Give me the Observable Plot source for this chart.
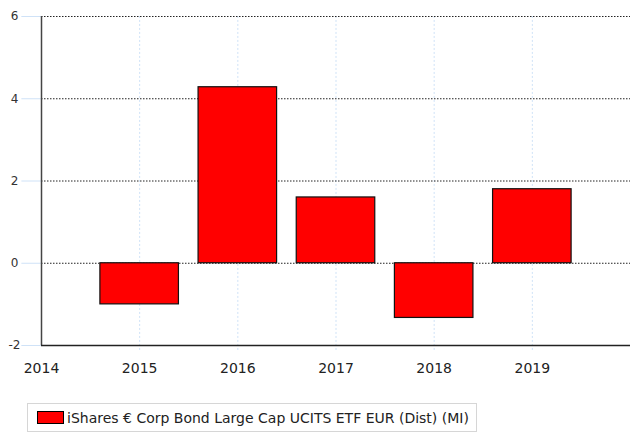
<!DOCTYPE html>
<html><head><meta charset="utf-8">
<script src="https://cdn.jsdelivr.net/npm/d3@7"></script>
<script src="https://cdn.jsdelivr.net/npm/@observablehq/plot@0.6"></script>
<style>
body{margin:0;background:#fff;font-family:Tahoma,"DejaVu Sans",sans-serif;}
#legend{position:absolute;left:27px;top:403px;width:450px;height:29px;border:1px solid #d6d6d6;box-sizing:border-box;display:flex;align-items:center;font-family:"DejaVu Sans",sans-serif;font-size:14px;color:#222;}
#legend .sw{display:inline-block;width:27px;height:13px;background:#ff0000;border:1px solid #000;margin-left:9px;margin-right:3px;box-sizing:border-box;}
</style></head><body>
<div id="chart"></div>
<div id="legend"><span class="sw"></span><span id="lt"></span></div>
<script>
const years = [2015, 2016, 2017, 2018, 2019];
const values = [-1.0, 4.28, 1.6, -1.33, 1.8];
const yTicks = [-2, 0, 2, 4, 6];
const xTicks = [2014, 2015, 2016, 2017, 2018, 2019];
const seriesName = "iShares € Corp Bond Large Cap UCITS ETF EUR (Dist) (MI)";
document.getElementById("lt").textContent = seriesName;
const data = years.map((y, i) => ({year: y, value: values[i]}));

const plot = Plot.plot({
  width: 635, height: 395,
  marginLeft: 41, marginRight: 5, marginTop: 16, marginBottom: 50,
  style: {fontFamily: "DejaVu Sans, sans-serif", background: "#fff"},
  x: {type: "linear", domain: [2014, 2020], axis: null},
  y: {type: "linear", domain: [-2, 6], axis: null},
  marks: [
    Plot.ruleX(years, {x: d => d, y1: -2.12, y2: 6, stroke: "#cfe2f7", strokeDasharray: "2,2", strokeWidth: 1}),
    Plot.ruleY(yTicks.filter(d => d > -2), {y: d => d, x1: 2014, x2: 2020, stroke: "#222", strokeDasharray: "1.5,1.5", strokeWidth: 1}),
    Plot.ruleY(yTicks, {y: d => d, x1: 2013.8, x2: 2014, stroke: "#cfe2f7", strokeWidth: 1}),
    Plot.rect(data, {x1: d => d.year - 0.4, x2: d => d.year + 0.4, y1: 0, y2: "value", fill: "#ff0000", stroke: "#111", strokeWidth: 1.2}),
    Plot.ruleX([2014], {y1: -2, y2: 6, stroke: "#444", strokeWidth: 1.5}),
    Plot.ruleY([-2], {x1: 2014, x2: 2020, stroke: "#222", strokeWidth: 1.5}),
    Plot.text(yTicks, {x: 2014, y: d => d, text: d => String(d), dx: -27, textAnchor: "middle", fontSize: 12, fill: "#333"}),
    Plot.text(xTicks, {x: d => d, y: -2, text: d => String(d), dy: 23, fontSize: 14, fill: "#222"})
  ]
});
document.getElementById("chart").appendChild(plot);
</script>
</body></html>
